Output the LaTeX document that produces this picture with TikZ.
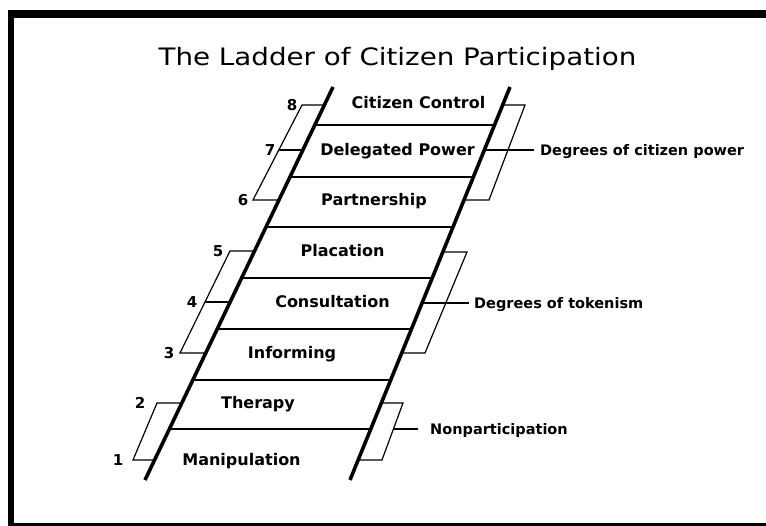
\documentclass[tikz,border=0pt]{standalone}
\usepackage{fontspec}
\usepackage{graphicx}
\newfontfamily\ladderfont{DejaVu Sans}

\tikzset{
	rail/.style={line width=3.6pt},
	rung/.style={line width=2pt},
	brace/.style={line width=1.2pt, line join=miter},
	rungtext/.style={font=\ladderfont\bfseries\fontsize{16}{18}\selectfont, anchor=base, inner sep=0pt},
	sidetext/.style={font=\ladderfont\bfseries\fontsize{14.5}{16}\selectfont, anchor=base west, inner sep=0pt},
	numtext/.style={font=\ladderfont\bfseries\fontsize{15}{17}\selectfont, anchor=base, inner sep=0pt}
}

\begin{document}
\begin{tikzpicture}[x=1pt, y=-1pt,
		declare function={lx(\t)=333-0.4784*(\t-87); rx(\t)=510-0.4071*(\t-87);}]
	\useasboundingbox (0,0) rectangle (766,526);
	
	% frame
	\fill (8,10) rectangle (766,18);
	\fill (8,10) rectangle (14,526);
	\fill (8,523) rectangle (766,526);
	
	\node[anchor=base, inner sep=0pt, font=\ladderfont\fontsize{24}{28}\selectfont] (title) at (397.5,66)
		{\scalebox{1.156}[1]{The Ladder of Citizen Participation}};
	
	% the ladder
	\draw[rail] (333,87) -- (145,480);
	\draw[rail] (510,87) -- (350,480);
	\foreach \y in {125,177,227,278,329,380,429}
		\draw[rung] ({lx(\y)},\y) -- ({rx(\y)},\y);
	
	\node[rungtext] (r8) at (418.5,109) {Citizen Control};
	\node[rungtext] (r7) at (397.5,156) {Delegated Power};
	\node[rungtext] (r6) at (374,206) {Partnership};
	\node[rungtext] (r5) at (342.5,257) {Placation};
	\node[rungtext] (r4) at (332.5,308) {Consultation};
	\node[rungtext] (r3) at (292,359) {Informing};
	\node[rungtext] (r2) at (258,409) {Therapy};
	\node[rungtext] (r1) at (241.5,465) {Manipulation};
	
	% brackets on the left
	\draw[brace] ({lx(105)},105) -- (302,105) -- (253,200) -- ({lx(200)},200);
	\draw[brace] (278.8,150) -- ({lx(150)},150);
	\draw[brace] ({lx(251)},251) -- (230,251) -- (180,353) -- ({lx(353)},353);
	\draw[brace] (205,302) -- ({lx(302)},302);
	\draw[brace] ({lx(403)},403) -- (157,403) -- (133,460) -- ({lx(460)},460);
	
	\node[numtext] (n8) at (292,110.5) {8};
	\node[numtext] (n7) at (270,155.5) {7};
	\node[numtext] (n6) at (243,205.5) {6};
	\node[numtext] (n5) at (218,256.5) {5};
	\node[numtext] (n4) at (192,307.5) {4};
	\node[numtext] (n3) at (169,358.5) {3};
	\node[numtext] (n2) at (140,408.5) {2};
	\node[numtext] (n1) at (118,465.5) {1};
	
	% brackets on the right
	\draw[brace] ({rx(105)},105) -- (525,105) -- (489,200) -- ({rx(200)},200);
	\draw[brace] ({rx(252)},252) -- (467,252) -- (425,353) -- ({rx(353)},353);
	\draw[brace] ({rx(403)},403) -- (403,403) -- (382,460) -- ({rx(460)},460);
	
	\node[sidetext] (power) at (540,155.5) {Degrees of citizen power};
	\node[sidetext] (token) at (474,308.5) {Degrees of tokenism};
	\node[sidetext] (nonpart) at (430,434.5) {Nonparticipation};
	
	\draw[brace] ({rx(150)},150) -- ([xshift=-6pt]power.base west |- 0,150);
	\draw[brace] ({rx(303)},303) -- ([xshift=-5pt]token.base west |- 0,303);
	\draw[brace] (393.4,429) -- ([xshift=-12pt]nonpart.base west |- 0,429);
	
\end{tikzpicture}
\end{document}
